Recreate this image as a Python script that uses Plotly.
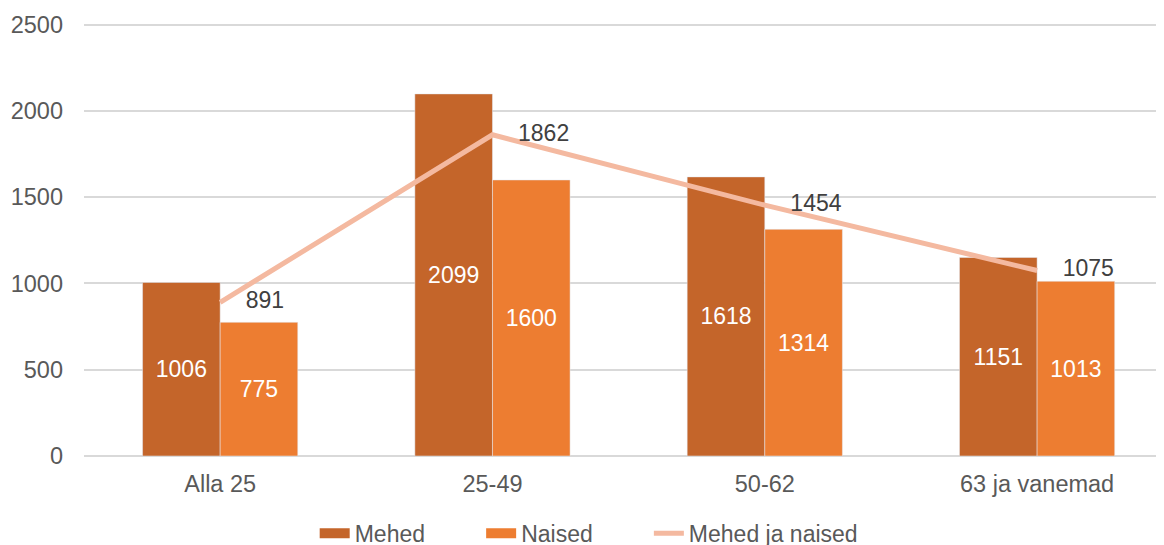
import plotly.graph_objects as go

categories = ["Alla 25", "25-49", "50-62", "63 ja vanemad"]
mehed = [1006, 2099, 1618, 1151]
naised = [775, 1600, 1314, 1013]
kokku = [891, 1862, 1454, 1075]

FONT = "Liberation Sans, Arial, sans-serif"
C_M = "#C4652A"
C_N = "#ED7D31"
C_L = "#F4B9A0"
PAD = "\u00a0" * 8

fig = go.Figure()
fig.add_trace(go.Bar(
    name="Mehed", x=categories, y=mehed, marker_color=C_M, showlegend=False,
    text=mehed, textposition="inside", insidetextanchor="middle",
    textfont=dict(color="white", size=23, family=FONT), textangle=0,
))
fig.add_trace(go.Bar(
    name="Naised", x=categories, y=naised, marker_color=C_N, showlegend=False,
    text=naised, textposition="inside", insidetextanchor="middle",
    textfont=dict(color="white", size=23, family=FONT), textangle=0,
))
fig.add_trace(go.Scatter(
    name="Mehed ja naised", x=categories, y=kokku, mode="lines+text",
    line=dict(color=C_L, width=5), showlegend=False,
    text=["    " + str(v) for v in kokku], textposition="middle right",
    textfont=dict(color="#404040", size=23, family=FONT),
))
# legend-only entries (rectangular swatches like the original)
for nm, col, w in [("Mehed" + PAD, C_M, 12), ("Naised" + PAD, C_N, 12),
                   ("Mehed ja naised", C_L, 5)]:
    fig.add_trace(go.Scatter(name=nm, x=[None], y=[None], mode="lines",
                             line=dict(color=col, width=w), showlegend=True))

fig.update_layout(
    width=1164, height=545,
    margin=dict(l=76, r=8, t=15, b=97, autoexpand=False),
    paper_bgcolor="white", plot_bgcolor="white",
    barmode="group", bargap=0.43, bargroupgap=0,
    font=dict(family=FONT, size=23, color="#595959"),
    showlegend=True,
    legend=dict(orientation="h", x=0.2136, xanchor="left", y=-0.228, yanchor="bottom",
                font=dict(size=23, color="#595959"), traceorder="normal"),
    xaxis=dict(range=[-0.5, 3.466], showgrid=False, showline=False, ticks="",
               automargin=False, ticklabelstandoff=11,
               tickfont=dict(size=23.5, color="#595959")),
    yaxis=dict(range=[0, 2510], tickvals=[0, 500, 1000, 1500, 2000, 2500],
               showgrid=True, gridcolor="#D9D9D9",
               gridwidth=1.5, zeroline=True, zerolinecolor="#D9D9D9", zerolinewidth=1.5,
               showline=False, ticks="", automargin=False, ticklabelstandoff=20,
               tickfont=dict(size=23.5, color="#595959")),
)

fig.write_html("out.html")
